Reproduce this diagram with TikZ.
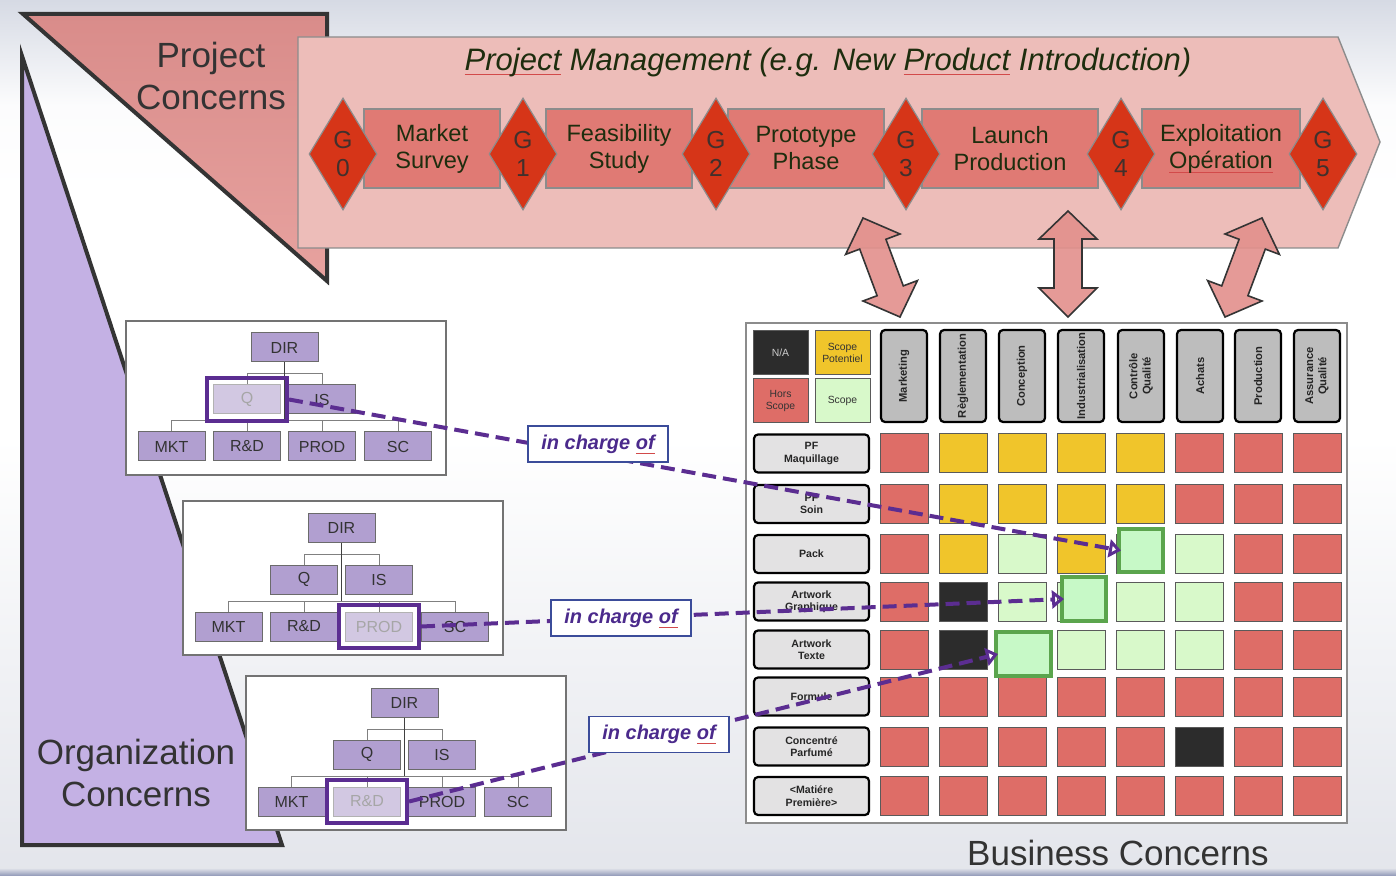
\documentclass[tikz,border=0pt]{standalone}
\usepackage{fontspec}
\setmainfont{Liberation Sans}
\usetikzlibrary{shapes.geometric,arrows.meta}
\definecolor{bgtop}{HTML}{D6DAE4}
\definecolor{bgbot}{HTML}{E3E5EB}
\definecolor{bgstrip}{HTML}{8E96B6}
\definecolor{projtop}{HTML}{D98C8A}
\definecolor{projbot}{HTML}{E7A29F}
\definecolor{orgfill}{HTML}{C4B1E4}
\definecolor{triborder}{HTML}{343434}
\definecolor{banfill}{HTML}{EDBDB9}
\definecolor{banborder}{HTML}{8C8C8C}
\definecolor{bantext}{HTML}{1E2D0E}
\definecolor{phasefill}{HTML}{E07A74}
\definecolor{gatefill}{HTML}{D63518}
\definecolor{gatetext}{HTML}{41302C}
\definecolor{arrowfill}{HTML}{E3908C}
\definecolor{spellred}{HTML}{D24A4A}
\definecolor{cR}{HTML}{DE6D67}
\definecolor{cY}{HTML}{F0C52B}
\definecolor{cG}{HTML}{D8F9CA}
\definecolor{cK}{HTML}{2C2C2C}
\definecolor{cellborder}{HTML}{5A5A5A}
\definecolor{hdrfill}{HTML}{BDBDBD}
\definecolor{rowfill}{HTML}{E3E2E3}
\definecolor{hlgreen}{HTML}{5BA54D}
\definecolor{hlfill}{HTML}{C7F9C7}
\definecolor{obfill}{HTML}{B19FD0}
\definecolor{obfade}{HTML}{D2C8E2}
\definecolor{obborder}{HTML}{6B6B6B}
\definecolor{purp}{HTML}{5B2D91}
\definecolor{labborder}{HTML}{3B4C9A}
\definecolor{labtext}{HTML}{4B2A8C}
\definecolor{txtgrey}{HTML}{333333}
\pgfdeclareverticalshading{bgsh}{100bp}{color(0bp)=(bgbot); color(25bp)=(bgbot); color(50bp)=(white); color(64bp)=(white); color(69bp)=(white!92!bgtop); color(75bp)=(bgtop); color(100bp)=(bgtop)}
\newsavebox\spellbox
\newcommand\spell[1]{\sbox\spellbox{#1}\rlap{\textcolor{spellred}{\rule[-2.2pt]{\wd\spellbox}{0.45pt}}}\usebox\spellbox}
\newcommand\orgchart[5]{%
\begin{scope}[shift={#2}, name prefix=#1-]
\node[orgframe] (frame) at (286,398) {};
\node[obox] (DIR) at (284.5,347.5) {DIR};
\node[#3] (Q) at (247,399.5) {Q};
\node[obox] (IS) at (322,399.5) {IS};
\node[obox] (MKT) at (171.5,446.5) {MKT};
\node[#4] (RD) at (247,446.5) {R\&D};
\node[#5] (PROD) at (322,446.5) {PROD};
\node[obox] (SC) at (398,446.5) {SC};
\coordinate (bus1) at (284.5,374);
\coordinate (bus2) at (284.5,421);
\draw[oline] (Q.north) -- (Q.north |- bus1) -- (IS.north |- bus1) -- (IS.north);
\draw[oline] (MKT.north) -- (MKT.north |- bus2) -- (SC.north |- bus2) -- (SC.north);
\draw[oline] (RD.north) -- (RD.north |- bus2);
\draw[oline] (PROD.north) -- (PROD.north |- bus2);
\draw[ostem] (DIR.south) -- (bus2);
\end{scope}}
\begin{document}
\begin{tikzpicture}[x=0.5pt,y=-0.5pt,
  every node/.style={inner sep=0pt},
  phase/.style={draw=banborder, fill=phasefill, line width=0.6pt, minimum height=39.5pt, align=center, text=bantext, font=\fontsize{11.8}{13.5}\selectfont},
  gate/.style={diamond, aspect=0.6, draw=banborder, fill=gatefill, minimum width=34pt, minimum height=56pt, line width=0.6pt, text=gatetext, align=center, font=\fontsize{12.3}{14}\selectfont},
  barrow/.style={draw=triborder, fill=arrowfill, fill opacity=0.9, line width=0.8pt, line join=miter},
  leg/.style={draw=cellborder, line width=0.5pt, minimum width=27.5pt, minimum height=22pt, align=center, text=txtgrey, font=\fontsize{5.2}{6}\selectfont},
  hdr/.style={draw=black, fill=hdrfill, rounded corners=2pt, line width=1.1pt, minimum width=46pt, minimum height=23pt, align=center, text=black!85, font=\bfseries\fontsize{5.6}{6.6}\selectfont},
  rowlab/.style={draw=black, fill=rowfill, rounded corners=2pt, line width=1.1pt, minimum width=57.5pt, minimum height=19pt, align=center, text=black!85, font=\bfseries\fontsize{5.3}{6.2}\selectfont},
  cell/.style={draw=cellborder, line width=0.5pt, minimum width=24pt, minimum height=19.5pt},
  hl/.style={draw=hlgreen, fill=hlfill, line width=2pt},
  orgframe/.style={draw=black!55, fill=white, line width=1.3pt, minimum width=160pt, minimum height=77pt},
  obox/.style={draw=obborder, fill=obfill, line width=0.5pt, minimum width=33.5pt, minimum height=14.5pt, text=black!80, font=\fontsize{8}{9}\selectfont},
  ofade/.style={draw=black!30, fill=obfade, line width=0.5pt, minimum width=33.5pt, minimum height=14.5pt, text=black!35, font=\fontsize{8}{9}\selectfont},
  oline/.style={draw=black!50, line width=0.5pt},
  ostem/.style={draw=black!75, line width=0.8pt},
  ohl/.style={draw=purp, line width=2pt, minimum width=40pt, minimum height=21.5pt},
  dconn/.style={draw=purp, line width=2pt, dash pattern=on 7pt off 3.5pt, -{Triangle[open,length=6pt,width=9pt]}},
  lab/.style={draw=labborder, fill=white, line width=0.8pt, minimum width=70pt, minimum height=18pt, text=labtext, font=\bfseries\itshape\fontsize{10}{11}\selectfont},
  bigtext/.style={align=center, text=txtgrey, font=\fontsize{17.5}{21}\selectfont}
]
\useasboundingbox (0,0) rectangle (1396,876);
% background
\shade[shading=bgsh] (0,0) rectangle (1396,876);
\shade[top color=bgbot, bottom color=bgstrip] (0,868) rectangle (1396,876);
% organization triangle
\draw[line width=2pt, draw=triborder, fill=orgfill, line join=miter] (22,56) -- (22,845) -- (282,845) -- cycle;
% project triangle
\draw[line width=2pt, draw=triborder, top color=projtop, bottom color=projbot, line join=miter] (23,14) -- (327,14) -- (327,281) -- cycle;
% banner
\draw[draw=banborder, fill=banfill, line width=0.7pt] (298,37) -- (1338,37) -- (1380,142) -- (1338,248) -- (298,248) -- cycle;
\node[font=\itshape\fontsize{15.5}{17}\selectfont, text=bantext] (title) at (828,62) {\spell{Project} Management (e.g. New \spell{Product} Introduction)};
% phases
\node[phase, minimum width=68pt] (ms) at (432,148.5) {Market\\Survey};
\node[phase, minimum width=73pt] (fs) at (619,148.5) {Feasibility\\Study};
\node[phase, minimum width=78pt] (pp) at (806,148.5) {Prototype\\Phase};
\node[phase, minimum width=88pt] (lp) at (1010,148.5) {Launch\\Production};
\node[phase, minimum width=79pt] (eo) at (1221,148.5) {Exploitation\\\spell{Opération}};
% gates
\node[gate] (g0) at (343,154) {G\\0};
\node[gate] (g1) at (523,154) {G\\1};
\node[gate] (g2) at (716,154) {G\\2};
\node[gate] (g3) at (906,154) {G\\3};
\node[gate] (g4) at (1121,154) {G\\4};
\node[gate] (g5) at (1323,154) {G\\5};
% block arrows
\draw[barrow] (863,218) -- (900,234) -- (885.9,239.3) -- (903.3,285.9) -- (917.4,280.6) -- (900,317) -- (863,301) -- (877.1,295.7) -- (859.7,249.1) -- (845.6,254.4) -- cycle;
\draw[barrow] (1068,211) -- (1097,239) -- (1082,239) -- (1082,288) -- (1097,288) -- (1068,317) -- (1039,288) -- (1054,288) -- (1054,239) -- (1039,239) -- cycle;
\draw[barrow] (1262,218) -- (1279.4,254.4) -- (1265.3,249.1) -- (1247.9,295.7) -- (1262,301) -- (1225,317) -- (1207.6,280.6) -- (1221.7,285.9) -- (1239.1,239.3) -- (1225,234) -- cycle;
% matrix panel
\node[draw=banborder, fill=white, line width=1.2pt, minimum width=300.5pt, minimum height=250pt] (panel) at (1046.5,573) {};
\node[leg, fill=cK, text=white!80!black] (na) at (780.5,352.5) {N/A};
\node[leg, fill=cY] (sp) at (842.5,352.5) {Scope\\Potentiel};
\node[leg, fill=cR] (hs) at (780.5,401) {Hors\\Scope};
\node[leg, fill=cG] (sc) at (842.5,401) {Scope};
\foreach \x/\t [count=\i] in {904/Marketing, 963/Règlementation, 1022/Conception, 1081/Industrialisation, 1141/{Contrôle\\Qualité}, 1200/Achats, 1258/Production, 1317/{Assurance\\Qualité}}
  \node[hdr, rotate=90] (h\i) at (\x,376) {\t};
\node[rowlab] (r1) at (811.5,453.5) {PF\\Maquillage};
\node[rowlab] (r2) at (811.5,504) {PF\\Soin};
\node[rowlab] (r3) at (811.5,554) {Pack};
\node[rowlab] (r4) at (811.5,601.5) {Artwork\\Graphique};
\node[rowlab] (r5) at (811.5,649.5) {Artwork\\Texte};
\node[rowlab] (r6) at (811.5,696.5) {Formule};
\node[rowlab] (r7) at (811.5,746.5) {Concentré\\Parfumé};
\node[rowlab] (r8) at (811.5,796) {<Matiére\\Première>};
\foreach \c [count=\j] in {R,Y,Y,Y,Y,R,R,R} \node[cell, fill=c\c] (m1-\j) at ({904+59*(\j-1)},453.5) {};
\foreach \c [count=\j] in {R,Y,Y,Y,Y,R,R,R} \node[cell, fill=c\c] (m2-\j) at ({904+59*(\j-1)},504) {};
\foreach \c [count=\j] in {R,Y,G,Y,G,G,R,R} \node[cell, fill=c\c] (m3-\j) at ({904+59*(\j-1)},554) {};
\foreach \c [count=\j] in {R,K,G,G,G,G,R,R} \node[cell, fill=c\c] (m4-\j) at ({904+59*(\j-1)},601.5) {};
\foreach \c [count=\j] in {R,K,G,G,G,G,R,R} \node[cell, fill=c\c] (m5-\j) at ({904+59*(\j-1)},649.5) {};
\foreach \c [count=\j] in {R,R,R,R,R,R,R,R} \node[cell, fill=c\c] (m6-\j) at ({904+59*(\j-1)},696.5) {};
\foreach \c [count=\j] in {R,R,R,R,R,K,R,R} \node[cell, fill=c\c] (m7-\j) at ({904+59*(\j-1)},746.5) {};
\foreach \c [count=\j] in {R,R,R,R,R,R,R,R} \node[cell, fill=c\c] (m8-\j) at ({904+59*(\j-1)},796) {};
\node[hl, minimum width=22pt, minimum height=21.5pt] (hc1) at (1141,550.5) {};
\node[hl, minimum width=22pt, minimum height=22pt] (hc2) at (1084,599) {};
\node[hl, minimum width=27.5pt, minimum height=22pt] (hc3) at (1023.5,654) {};
% org charts
\orgchart{o1}{(0,0)}{ofade}{obox}{obox}
\node[ohl] (o1-hl) at (o1-Q) {};
\orgchart{o2}{(57,180)}{obox}{obox}{ofade}
\node[ohl] (o2-hl) at (o2-PROD) {};
\orgchart{o3}{(120,355)}{obox}{ofade}{obox}
\node[ohl] (o3-hl) at (o3-RD) {};
% connectors
\draw[dconn] (o1-hl.east) -- ([xshift=2pt]hc1.west);
\draw[dconn] (o2-hl.east) -- ([xshift=2pt]hc2.west);
\draw[dconn] (o3-hl.east) -- ([xshift=2pt]hc3.west);
\node[lab] (l1) at (598,444) {in charge \spell{of}};
\node[lab] (l2) at (621,618) {in charge \spell{of}};
\node[lab] (l3) at (659,734.5) {in charge \spell{of}};
% concern titles
\node[bigtext] (pc) at (211,76) {Project\\Concerns};
\node[bigtext] (oc) at (136,772.5) {Organization\\Concerns};
\node[bigtext] (bc) at (1118,853) {Business Concerns};
\end{tikzpicture}
\end{document}
